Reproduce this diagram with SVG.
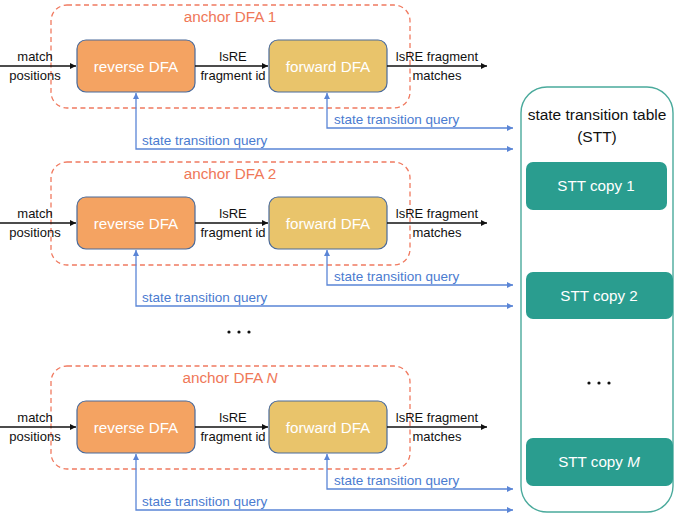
<svg xmlns="http://www.w3.org/2000/svg" width="674" height="514" viewBox="0 0 674 514">
<defs>
<style>
text{font-family:"Liberation Sans",Arial,sans-serif}
.lbl{font-size:13px;fill:#111;text-anchor:middle}
.q{font-size:13.5px;fill:#4A7BD0}
.title{font-size:15.3px;fill:#EF7858;text-anchor:middle}
.box{font-size:15.2px;fill:#fff;text-anchor:middle}
.anchor{fill:none;stroke:#F07A60;stroke-width:1.3;stroke-dasharray:5 3.5}
.rev{fill:#F4A362;stroke:#4A6A9A;stroke-width:1.2}
.fwd{fill:#E9C46B;stroke:#4A6A9A;stroke-width:1.2}
.blk{fill:none;stroke:#111;stroke-width:1.3;marker-end:url(#ab)}
.blu{fill:none;stroke:#5A85D6;stroke-width:1.3;marker-start:url(#bs);marker-end:url(#be)}
.stt{fill:#2A9D8F}
</style>
<marker id="ab" markerWidth="8" markerHeight="8" refX="6" refY="3" orient="auto" markerUnits="userSpaceOnUse"><path d="M0,0 L6,3 L0,6 Z" fill="#111"/></marker>
<marker id="be" markerWidth="8" markerHeight="8" refX="6" refY="3" orient="auto" markerUnits="userSpaceOnUse"><path d="M0,0 L6,3 L0,6 Z" fill="#5A85D6"/></marker>
<marker id="bs" markerWidth="8" markerHeight="8" refX="0" refY="3" orient="auto" markerUnits="userSpaceOnUse"><path d="M6,0 L0,3 L6,6 Z" fill="#5A85D6"/></marker>
</defs>

<g id="stt-table">
<rect x="521" y="87" width="152" height="425" rx="26" fill="none" stroke="#4AAA9C" stroke-width="1.4"/>
<text x="597" y="120" style="font-size:15.5px;fill:#111;text-anchor:middle">state transition table</text>
<text x="597" y="142" style="font-size:15.5px;fill:#111;text-anchor:middle">(STT)</text>
</g>
<g id="stt-copy-1">
<rect class="stt" x="526" y="162" width="141" height="48" rx="7"/>
<text class="box" x="596" y="191">STT copy 1</text>
</g>
<g id="stt-copy-2">
<rect class="stt" x="526" y="272" width="147" height="47" rx="7"/>
<text class="box" x="599" y="301">STT copy 2</text>
</g>
<g id="stt-copy-m">
<rect class="stt" x="526" y="438" width="147" height="48" rx="7"/>
<text class="box" x="599" y="467">STT copy <tspan font-style="italic">M</tspan></text>
</g>
<g id="stt-dots" fill="#111">
<circle cx="589" cy="383" r="1.6"/><circle cx="599" cy="383" r="1.6"/><circle cx="609" cy="383" r="1.6"/>
</g>
<g id="mid-dots" fill="#111">
<circle cx="229" cy="332" r="1.6"/><circle cx="239" cy="332" r="1.6"/><circle cx="249" cy="332" r="1.6"/>
</g>

<g id="anchor-dfa-1">
<rect class="anchor" x="51" y="5" width="359" height="103" rx="16"/>
<text class="title" x="230" y="22">anchor DFA 1</text>
<g id="reverse-dfa-1"><rect class="rev" x="77" y="40" width="118" height="52" rx="9"/><text class="box" x="136" y="72">reverse DFA</text></g>
<g id="forward-dfa-1"><rect class="fwd" x="269" y="40" width="118" height="52" rx="9"/><text class="box" x="328" y="72">forward DFA</text></g>
</g>
<g id="anchor-dfa-2" transform="translate(0,157)">
<rect class="anchor" x="51" y="5" width="359" height="103" rx="16"/>
<text class="title" x="230" y="22">anchor DFA 2</text>
<g id="reverse-dfa-2"><rect class="rev" x="77" y="40" width="118" height="52" rx="9"/><text class="box" x="136" y="72">reverse DFA</text></g>
<g id="forward-dfa-2"><rect class="fwd" x="269" y="40" width="118" height="52" rx="9"/><text class="box" x="328" y="72">forward DFA</text></g>
</g>
<g id="anchor-dfa-n" transform="translate(0,361)">
<rect class="anchor" x="51" y="5" width="359" height="103" rx="16"/>
<text class="title" x="230" y="22">anchor DFA <tspan font-style="italic">N</tspan></text>
<g id="reverse-dfa-n"><rect class="rev" x="77" y="40" width="118" height="52" rx="9"/><text class="box" x="136" y="72">reverse DFA</text></g>
<g id="forward-dfa-n"><rect class="fwd" x="269" y="40" width="118" height="52" rx="9"/><text class="box" x="328" y="72">forward DFA</text></g>
</g>

<g id="connectors">
<g id="conn-1">
<path class="blk" d="M0,66 H76"/>
<path class="blk" d="M195,66 H268"/>
<path class="blk" d="M387,66 H487"/>
<path class="blu" d="M327,93 V128 H513"/>
<path class="blu" d="M136,93 V149 H513"/>
</g>
<g id="conn-2" transform="translate(0,157)">
<path class="blk" d="M0,66 H76"/>
<path class="blk" d="M195,66 H268"/>
<path class="blk" d="M387,66 H487"/>
<path class="blu" d="M327,93 V128 H513"/>
<path class="blu" d="M136,93 V149 H513"/>
</g>
<g id="conn-n" transform="translate(0,361)">
<path class="blk" d="M0,66 H76"/>
<path class="blk" d="M195,66 H268"/>
<path class="blk" d="M387,66 H487"/>
<path class="blu" d="M327,93 V128 H513"/>
<path class="blu" d="M136,93 V149 H513"/>
</g>
</g>

<g id="labels-1">
<text class="lbl" x="35" y="61">match</text><text class="lbl" x="35" y="80">positions</text>
<text class="lbl" x="233" y="61">lsRE</text><text class="lbl" x="233" y="80">fragment id</text>
<text class="lbl" x="437" y="61">lsRE fragment</text><text class="lbl" x="437" y="80">matches</text>
<text class="q" x="334" y="124">state transition query</text>
<text class="q" x="142" y="145">state transition query</text>
</g>
<g id="labels-2" transform="translate(0,157)">
<text class="lbl" x="35" y="61">match</text><text class="lbl" x="35" y="80">positions</text>
<text class="lbl" x="233" y="61">lsRE</text><text class="lbl" x="233" y="80">fragment id</text>
<text class="lbl" x="437" y="61">lsRE fragment</text><text class="lbl" x="437" y="80">matches</text>
<text class="q" x="334" y="124">state transition query</text>
<text class="q" x="142" y="145">state transition query</text>
</g>
<g id="labels-n" transform="translate(0,361)">
<text class="lbl" x="35" y="61">match</text><text class="lbl" x="35" y="80">positions</text>
<text class="lbl" x="233" y="61">lsRE</text><text class="lbl" x="233" y="80">fragment id</text>
<text class="lbl" x="437" y="61">lsRE fragment</text><text class="lbl" x="437" y="80">matches</text>
<text class="q" x="334" y="124">state transition query</text>
<text class="q" x="142" y="145">state transition query</text>
</g>
</svg>
